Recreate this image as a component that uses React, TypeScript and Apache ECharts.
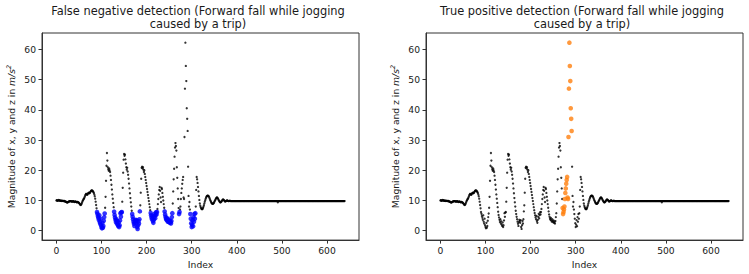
import React, { useEffect, useRef } from "react";
import * as echarts from "echarts";

const xTicks = [0, 100, 200, 300, 400, 500, 600];
const yTicks = [0, 10, 20, 30, 40, 50, 60];
const titleLeft = "False negative detection (Forward fall while jogging\ncaused by a trip)";
const titleRight = "True positive detection (Forward fall while jogging\ncaused by a trip)";
const xName = "Index";

// magnitude per index 0..639
const magnitude: number[] = [
  // 0-49
  10.0, 10.1, 10.0, 9.9, 10.0, 10.2, 10.1, 10.0, 9.9, 9.9,
  10.0, 9.9, 9.8, 9.9, 9.9, 9.8, 9.8, 9.9, 9.8, 9.7,
  9.6, 9.6, 9.5, 9.4, 9.3, 9.4, 9.5, 9.6, 9.7, 9.7,
  9.8, 9.8, 9.8, 9.7, 9.7, 9.6, 9.7, 9.8, 9.7, 9.6,
  9.5, 9.6, 9.7, 9.6, 9.5, 9.4, 9.5, 9.5, 9.4, 9.3,
  // 50-99
  9.2, 9.0, 8.8, 8.6, 8.5, 8.7, 9.0, 9.4, 9.8, 10.1,
  10.4, 10.6, 10.9, 11.3, 11.7, 12.0, 12.2, 12.1, 11.9, 12.0,
  12.3, 12.5, 12.6, 12.4, 12.5, 12.8, 13.0, 13.2, 13.3, 13.3,
  13.2, 13.0, 12.8, 12.5, 12.0, 11.4, 10.6, 9.6, 8.5, 7.4,
  6.2, 5.6, 4.9, 4.3, 3.6, 5.1, 3.0, 2.4, 4.0, 1.8,
  // 100-149
  1.2, 0.8, 2.6, 1.0, 1.6, 3.3, 4.5, 5.7, 7.6, 11.2,
  16.5, 21.5, 25.7, 23.2, 21.0, 20.3, 19.8, 20.6, 20.0, 19.4,
  18.2, 16.8, 15.2, 13.6, 12.0, 10.6, 9.2, 7.8, 6.3, 5.2,
  4.4, 3.6, 2.9, 3.8, 2.4, 3.1, 2.0, 1.6, 2.7, 1.2,
  1.8, 3.4, 5.8, 4.6, 6.0, 6.2, 9.6, 14.2, 19.2, 23.5,
  // 150-199
  25.4, 24.8, 25.2, 23.6, 22.2, 21.0, 20.2, 20.8, 19.6, 18.5,
  17.2, 15.6, 14.0, 12.4, 10.8, 9.4, 8.0, 6.6, 5.5, 4.6,
  3.8, 3.0, 2.3, 1.6, 2.8, 3.6, 3.2, 2.6, 3.5, 1.2,
  0.6, 1.8, 3.2, 2.4, 3.8, 6.4, 8.4, 12.6, 17.2, 20.8,
  21.2, 20.6, 21.0, 20.2, 19.4, 20.0, 18.8, 17.8, 16.8, 15.8,
  // 200-249
  14.8, 13.8, 12.8, 11.8, 10.8, 9.8, 8.8, 7.8, 6.8, 5.9,
  5.1, 4.4, 3.8, 4.9, 3.2, 2.6, 3.6, 4.6, 5.6, 4.1,
  5.2, 6.1, 5.4, 6.2, 7.2, 8.8, 10.5, 12.0, 13.5, 14.5,
  13.2, 11.0, 9.5, 14.2, 13.8, 12.5, 11.2, 10.0, 8.8, 7.6,
  6.4, 5.4, 4.6, 4.0, 3.6, 4.2, 3.4, 3.0, 3.8, 3.2,
  // 250-299
  2.8, 3.4, 2.6, 3.0, 2.4, 3.2, 4.5, 5.8, 9.0, 13.0,
  17.0, 20.5, 24.5, 27.5, 29.0, 28.0, 26.5, 21.0, 17.5, 14.0,
  10.5, 7.5, 5.5, 6.2, 7.0, 8.0, 10.5, 12.5, 14.0, 15.5,
  16.8, 17.8, 11.0, 10.5, 31.0, 47.0, 62.2, 54.5, 49.5, 40.5,
  37.0, 33.0, 21.2, 11.5, 8.0, 9.5, 7.0, 5.5, 4.0, 2.5,
  // 300-349
  1.2, 2.0, 3.5, 1.5, 4.5, 3.0, 5.5, 4.0, 5.8, 8.0,
  13.5, 17.8, 17.0, 15.8, 14.5, 13.0, 11.5, 10.2, 9.0, 8.3,
  7.8, 7.4, 7.2, 7.1, 7.2, 7.5, 7.9, 8.4, 9.0, 9.6,
  10.1, 10.6, 11.0, 11.3, 11.5, 11.6, 11.6, 11.5, 11.3, 11.0,
  10.6, 10.2, 9.8, 9.5, 9.2, 9.0, 8.9, 8.9, 9.0, 9.2,
  // 350-399
  9.5, 9.8, 10.1, 10.4, 10.7, 10.9, 11.0, 10.9, 10.7, 10.4,
  10.1, 9.8, 9.6, 9.4, 9.4, 9.5, 9.7, 9.9, 10.1, 10.3,
  10.3, 10.2, 10.0, 9.8, 9.7, 9.7, 9.8, 9.9, 10.0, 10.0,
  9.9, 9.8, 9.8, 9.8, 9.9, 9.9, 9.8, 9.8, 9.8, 9.8,
  9.8, 9.8, 9.8, 9.8, 9.8, 9.8, 9.8, 9.8, 9.8, 9.8,
  // 400-499
  9.8, 9.8, 9.8, 9.8, 9.8, 9.8, 9.8, 9.8, 9.8, 9.8,
  9.8, 9.8, 9.8, 9.8, 9.8, 9.8, 9.8, 9.8, 9.8, 9.8,
  9.8, 9.8, 9.8, 9.8, 9.8, 9.8, 9.8, 9.8, 9.8, 9.8,
  9.8, 9.8, 9.8, 9.8, 9.8, 9.8, 9.8, 9.8, 9.8, 9.8,
  9.8, 9.8, 9.8, 9.8, 9.8, 9.8, 9.8, 9.8, 9.8, 9.8,
  9.8, 9.8, 9.8, 9.8, 9.8, 9.8, 9.8, 9.8, 9.8, 9.8,
  9.8, 9.8, 9.8, 9.8, 9.8, 9.8, 9.8, 9.8, 9.8, 9.8,
  9.8, 9.8, 9.8, 9.8, 9.8, 9.8, 9.8, 9.8, 9.8, 9.8,
  9.8, 9.8, 9.8, 9.8, 9.8, 9.8, 9.8, 9.8, 9.8, 9.8,
  9.8, 9.4, 9.8, 9.8, 9.8, 9.8, 9.8, 9.8, 9.8, 9.8,
  // 500-599
  9.8, 9.8, 9.8, 9.8, 9.8, 9.8, 9.8, 9.8, 9.8, 9.8,
  9.8, 9.8, 9.8, 9.8, 9.8, 9.8, 9.8, 9.8, 9.8, 9.8,
  9.8, 9.8, 9.8, 9.8, 9.8, 9.8, 9.8, 9.8, 9.8, 9.8,
  9.8, 9.8, 9.8, 9.8, 9.8, 9.8, 9.8, 9.8, 9.8, 9.8,
  9.8, 9.8, 9.8, 9.8, 9.8, 9.8, 9.8, 9.8, 9.8, 9.8,
  9.8, 9.8, 9.8, 9.8, 9.8, 9.8, 9.8, 9.8, 9.8, 9.8,
  9.8, 9.8, 9.8, 9.8, 9.8, 9.8, 9.8, 9.8, 9.8, 9.8,
  9.8, 9.8, 9.8, 9.8, 9.8, 9.8, 9.8, 9.8, 9.8, 9.8,
  9.8, 9.8, 9.8, 9.8, 9.8, 9.8, 9.8, 9.8, 9.8, 9.8,
  9.8, 9.8, 9.8, 9.8, 9.8, 9.8, 9.8, 9.8, 9.8, 9.8,
  // 600-639
  9.8, 9.8, 9.8, 9.8, 9.8, 9.8, 9.8, 9.8, 9.8, 9.8,
  9.8, 9.8, 9.8, 9.8, 9.8, 9.8, 9.8, 9.8, 9.8, 9.8,
  9.8, 9.8, 9.8, 9.8, 9.8, 9.8, 9.8, 9.8, 9.8, 9.8,
  9.8, 9.8, 9.8, 9.8, 9.8, 9.8, 9.8, 9.8, 9.8, 9.8,
];

// left chart: samples below this magnitude are the (missed) low-magnitude points
const lowThreshold = 6.5;
// right chart: detected fall window (indices, inclusive)
const fallStart = 271;
const fallEnd = 291;

const FONT = "DejaVu Sans";
const TXT = "#1a1a1a";
const AX = "#333333";
const LBL = 9.2;

function axesFor(gridIndex: number) {
  const x = {
    type: "value",
    gridIndex,
    min: -32,
    max: 671,
    name: xName,
    nameLocation: "middle",
    nameGap: 18,
    nameTextStyle: { fontFamily: FONT, fontSize: LBL, color: TXT },
    axisLine: { show: true, onZero: false, lineStyle: { color: AX, width: 1 } },
    axisTick: { show: true, length: 3.5, customValues: xTicks, lineStyle: { color: AX } },
    axisLabel: { customValues: xTicks, fontFamily: FONT, fontSize: LBL, color: TXT, margin: 6 },
    splitLine: { show: false },
  };
  const y = {
    type: "value",
    gridIndex,
    min: -3.1,
    max: 65.4,
    name: "Magnitude of x, y and z in {it|m/s}{sup|2}",
    nameLocation: "middle",
    nameRotate: 90,
    nameGap: 26,
    nameTextStyle: {
      fontFamily: FONT,
      fontSize: LBL,
      color: TXT,
      rich: {
        it: { fontFamily: FONT, fontSize: LBL, fontStyle: "italic", color: TXT },
        sup: { fontFamily: FONT, fontSize: 6.4, fontStyle: "italic", color: TXT, verticalAlign: "top", lineHeight: 10 },
      },
    },
    axisLine: { show: true, onZero: false, lineStyle: { color: AX, width: 1 } },
    axisTick: { show: true, length: 3.5, customValues: yTicks, lineStyle: { color: AX } },
    axisLabel: { customValues: yTicks, fontFamily: FONT, fontSize: LBL, color: TXT, margin: 6 },
    splitLine: { show: false },
  };
  return { x, y };
}

export default function App() {
  const ref = useRef<HTMLDivElement>(null);
  useEffect(() => {
    if (!ref.current) return;
    const chart = echarts.init(ref.current, null, { renderer: "svg" });
    const leftBlack: number[][] = [];
    const leftBlue: number[][] = [];
    const rightBlack: number[][] = [];
    const rightOrange: number[][] = [];
    magnitude.forEach((v, i) => {
      if (v < lowThreshold) leftBlue.push([i, v]);
      else leftBlack.push([i, v]);
      if (i >= fallStart && i <= fallEnd) rightOrange.push([i, v]);
      else rightBlack.push([i, v]);
    });
    const a0 = axesFor(0);
    const a1 = axesFor(1);
    const small = { symbol: "circle", symbolSize: 2.3, itemStyle: { color: "#000000" } };
    const big = { symbol: "circle", symbolSize: 4.6 };
    chart.setOption({
      animation: false,
      backgroundColor: "#ffffff",
      grid: [
        { left: 42, top: 33, width: 317, height: 208, show: true, borderColor: AX, borderWidth: 1, backgroundColor: "transparent" },
        { left: 426, top: 33, width: 317, height: 208, show: true, borderColor: AX, borderWidth: 1, backgroundColor: "transparent" },
      ],
      xAxis: [a0.x, a1.x],
      yAxis: [a0.y, a1.y],
      graphic: [
        {
          type: "text",
          x: 198,
          y: 4,
          style: { text: titleLeft, align: "center", verticalAlign: "top", fontFamily: FONT, fontSize: 11.4, lineHeight: 13.5, fill: TXT },
        },
        {
          type: "text",
          x: 582,
          y: 4,
          style: { text: titleRight, align: "center", verticalAlign: "top", fontFamily: FONT, fontSize: 11.4, lineHeight: 13.5, fill: TXT },
        },
      ],
      series: [
        { type: "scatter", xAxisIndex: 0, yAxisIndex: 0, data: leftBlack, ...small },
        { type: "scatter", xAxisIndex: 0, yAxisIndex: 0, data: leftBlue, ...big, itemStyle: { color: "#0000ff" } },
        { type: "scatter", xAxisIndex: 1, yAxisIndex: 1, data: rightBlack, ...small },
        { type: "scatter", xAxisIndex: 1, yAxisIndex: 1, data: rightOrange, ...big, itemStyle: { color: "#ff7f0e" } },
      ],
    });
    return () => chart.dispose();
  }, []);
  return <div ref={ref} style={{ position: "absolute", left: 0, top: 0, width: 749, height: 274 }} />;
}
